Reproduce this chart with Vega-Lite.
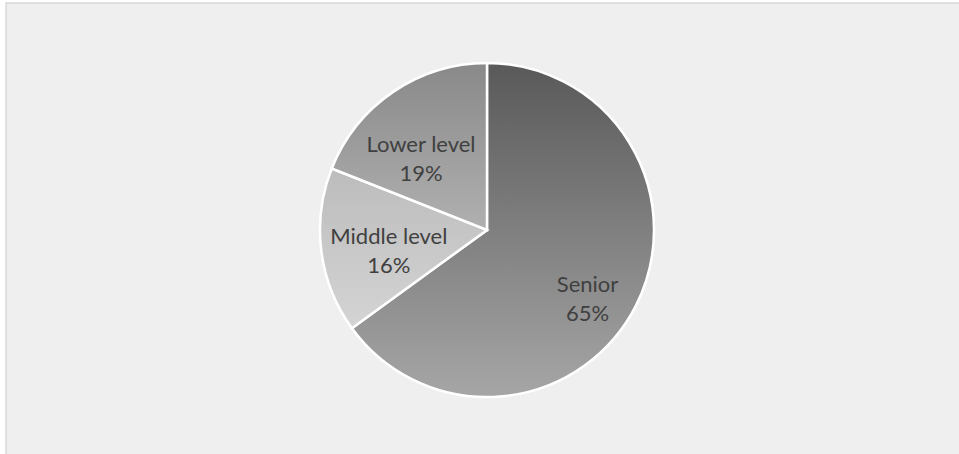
{
  "$schema": "https://vega.github.io/schema/vega-lite/v6.json",
  "width": 959,
  "height": 454,
  "autosize": {"type": "fit", "contains": "padding"},
  "padding": {"left": 6, "top": 3, "right": -9, "bottom": -3},
  "background": "#ffffff",
  "view": {"fill": "#efefef", "stroke": "#d9d9d9", "strokeWidth": 1.5},
  "data": {
    "values": [
      {"level": "Senior", "share": 0.65},
      {"level": "Middle level", "share": 0.16},
      {"level": "Lower level", "share": 0.19}
    ]
  },
  "encoding": {
    "theta": {"field": "share", "type": "quantitative", "stack": true},
    "order": {"field": "level", "sort": "descending"}
  },
  "layer": [
    {
      "mark": {"type": "arc", "radius": 167, "stroke": "#ffffff", "strokeWidth": 2.5},
      "encoding": {
        "fill": {
          "condition": [
            {"test": "datum.level === 'Senior'", "value": {"gradient": "linear", "x1": 0, "y1": 0, "x2": 0, "y2": 1, "stops": [{"offset": 0, "color": "#595959"}, {"offset": 1, "color": "#a6a6a6"}]}},
            {"test": "datum.level === 'Lower level'", "value": {"gradient": "linear", "x1": 0, "y1": 0, "x2": 0, "y2": 1, "stops": [{"offset": 0, "color": "#898989"}, {"offset": 1, "color": "#b0b0b0"}]}}
          ],
          "value": {"gradient": "linear", "x1": 0, "y1": 0, "x2": 0, "y2": 1, "stops": [{"offset": 0, "color": "#bcbcbc"}, {"offset": 1, "color": "#d4d4d4"}]}
        }
      }
    },
    {
      "mark": {"type": "text", "radius": 105, "font": "Lato", "fontSize": 22, "color": "#404040", "lineHeight": 29, "baseline": "middle", "dx": 7, "dy": 7},
      "encoding": {
        "text": {"condition": {"test": "datum.level === 'Senior'", "value": ["Senior", "65%"]}, "value": ""}
      }
    },
    {
      "mark": {"type": "text", "radius": 105, "font": "Lato", "fontSize": 22, "color": "#404040", "lineHeight": 29, "baseline": "middle", "dx": 6, "dy": -6},
      "encoding": {
        "text": {"condition": {"test": "datum.level === 'Middle level'", "value": ["Middle level", "16%"]}, "value": ""}
      }
    },
    {
      "mark": {"type": "text", "radius": 105, "font": "Lato", "fontSize": 22, "color": "#404040", "lineHeight": 29, "baseline": "middle", "dx": -7, "dy": 2},
      "encoding": {
        "text": {"condition": {"test": "datum.level === 'Lower level'", "value": ["Lower level", "19%"]}, "value": ""}
      }
    }
  ]
}
